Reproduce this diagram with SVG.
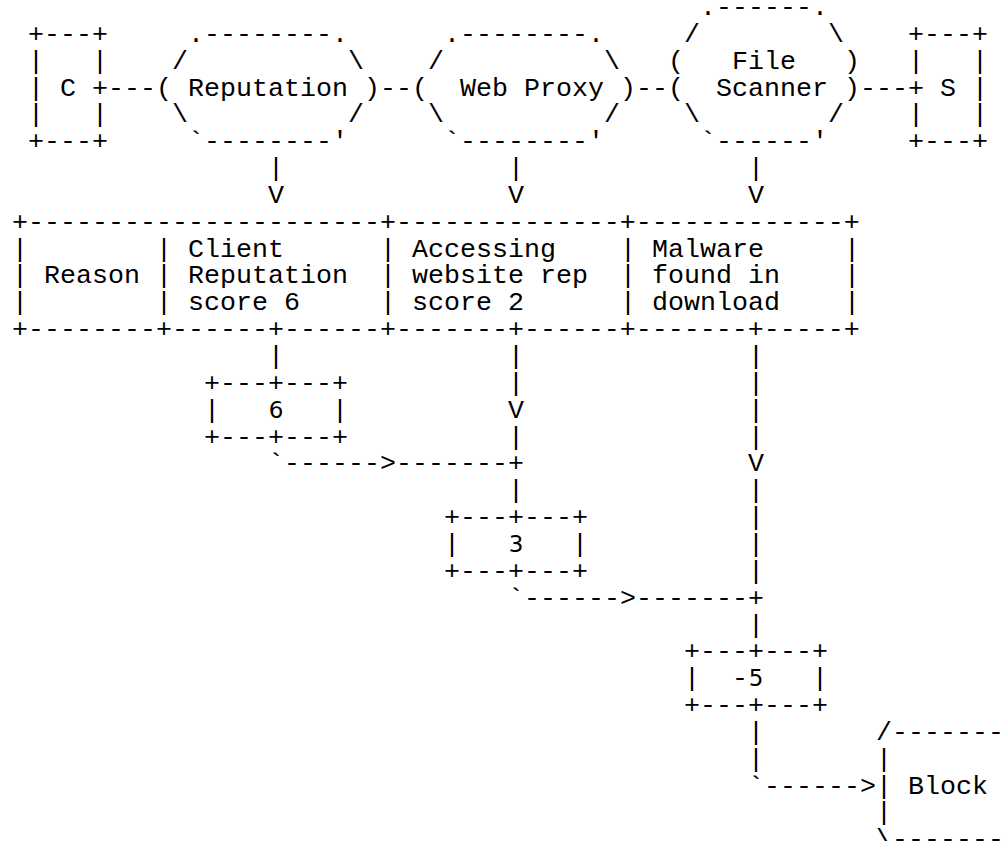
<svg xmlns="http://www.w3.org/2000/svg" width="1003" height="841" viewBox="0 0 1003 841" xml:space="preserve">
<style>
text{font-family:"Liberation Mono","DejaVu Sans Mono",monospace;font-size:26.67px;fill:#000;white-space:pre}
.d{font-family:"DejaVu Sans","Liberation Sans",sans-serif;font-size:23px;text-anchor:middle}
</style>
<rect width="1003" height="841" fill="#fff"/>
<g id="node-c">
<text x="28" y="41.8">+---+</text>
<text x="28" y="68.65">|   |</text>
<text x="28" y="95.5">| C +</text>
<text x="28" y="122.35">|   |</text>
<text x="28" y="149.2">+---+</text>
</g>
<g id="node-reputation">
<text x="188" y="41.8">.--------.</text>
<text x="172" y="68.65">/          \</text>
<text x="156" y="95.5">( Reputation )</text>
<text x="172" y="122.35">\          /</text>
<text x="188" y="149.2">`--------'</text>
</g>
<g id="node-webproxy">
<text x="444" y="41.8">.--------.</text>
<text x="428" y="68.65">/          \</text>
<text x="412" y="95.5">(  Web Proxy )</text>
<text x="428" y="122.35">\          /</text>
<text x="444" y="149.2">`--------'</text>
</g>
<g id="node-filescanner">
<text x="700" y="14.95">.------.</text>
<text x="684" y="41.8">/        \</text>
<text x="668" y="68.65">(   File   )</text>
<text x="668" y="95.5">(  Scanner )</text>
<text x="684" y="122.35">\        /</text>
<text x="700" y="149.2">`------'</text>
</g>
<g id="node-s">
<text x="908" y="41.8">+---+</text>
<text x="908" y="68.65">|   |</text>
<text x="908" y="95.5">+ S |</text>
<text x="908" y="122.35">|   |</text>
<text x="908" y="149.2">+---+</text>
</g>
<g id="node-table">
<text x="12" y="229.75">+----------------------+--------------+-------------+</text>
<text x="12" y="256.6">|</text><text x="156" y="256.6">|</text><text x="380" y="256.6">|</text><text x="620" y="256.6">|</text><text x="844" y="256.6">|</text>
<text x="12" y="283.45">|</text><text x="156" y="283.45">|</text><text x="380" y="283.45">|</text><text x="620" y="283.45">|</text><text x="844" y="283.45">|</text>
<text x="12" y="310.3">|</text><text x="156" y="310.3">|</text><text x="380" y="310.3">|</text><text x="620" y="310.3">|</text><text x="844" y="310.3">|</text>
<text x="44" y="283.45">Reason</text>
<text x="188" y="256.6">Client</text>
<text x="188" y="283.45">Reputation</text>
<text x="188" y="310.3">score 6</text>
<text x="412" y="256.6">Accessing</text>
<text x="412" y="283.45">website rep</text>
<text x="412" y="310.3">score 2</text>
<text x="652" y="256.6">Malware</text>
<text x="652" y="283.45">found in</text>
<text x="652" y="310.3">download</text>
<text x="12" y="337.15">+--------+------+------+-------+------+-------+-----+</text>
</g>
<g id="node-score6">
<text x="204" y="390.85">+---+---+</text>
<text x="204" y="417.7">|</text><text x="332" y="417.7">|</text>
<text class="d" x="276" y="417.7">6</text>
<text x="204" y="444.55">+---+---+</text>
</g>
<g id="node-score3">
<text x="444" y="525.1">+---+---+</text>
<text x="444" y="551.95">|</text><text x="572" y="551.95">|</text>
<text class="d" x="516" y="551.95">3</text>
<text x="444" y="578.8">+---+---+</text>
</g>
<g id="node-score-5">
<text x="684" y="659.35">+---+---+</text>
<text x="684" y="686.2">|</text><text x="812" y="686.2">|</text>
<text x="732" y="686.2">-<tspan class="d" x="756">5</tspan></text>
<text x="684" y="713.05">+---+---+</text>
</g>
<g id="node-block">
<text x="876" y="739.9">/-------</text>
<text x="876" y="766.75">|</text>
<text x="876" y="793.6">| Block</text>
<text x="876" y="820.45">|</text>
<text x="876" y="847.3">\-------</text>
</g>
<g id="connectors">
<text x="108" y="95.5">---</text>
<text x="380" y="95.5">--</text>
<text x="636" y="95.5">--</text>
<text x="860" y="95.5">---</text>
<text x="268" y="176.05">|</text><text x="508" y="176.05">|</text><text x="748" y="176.05">|</text>
<text x="268" y="202.9">V</text><text x="508" y="202.9">V</text><text x="748" y="202.9">V</text>
<text x="268" y="364">|</text><text x="508" y="364">|</text><text x="748" y="364">|</text>
<text x="508" y="390.85">|</text><text x="748" y="390.85">|</text>
<text x="508" y="417.7">V</text><text x="748" y="417.7">|</text>
<text x="508" y="444.55">|</text><text x="748" y="444.55">|</text>
<text x="268" y="471.4">`------&gt;-------+</text><text x="748" y="471.4">V</text>
<text x="508" y="498.25">|</text><text x="748" y="498.25">|</text>
<text x="748" y="525.1">|</text>
<text x="748" y="551.95">|</text>
<text x="748" y="578.8">|</text>
<text x="508" y="605.65">`------&gt;-------+</text>
<text x="748" y="632.5">|</text>
<text x="748" y="739.9">|</text>
<text x="748" y="766.75">|</text>
<text x="748" y="793.6">`------&gt;</text>
</g>
</svg>
